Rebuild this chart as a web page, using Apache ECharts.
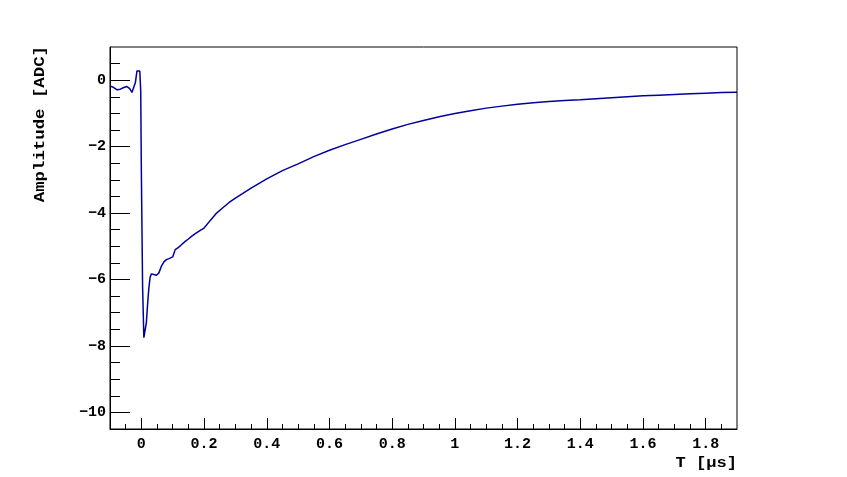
<!DOCTYPE html>
<html><head><meta charset="utf-8">
<script src="https://cdn.jsdelivr.net/npm/echarts@6/dist/echarts.min.js"></script>
<style>html,body{margin:0;padding:0;background:#fff}#c{width:847px;height:477px}</style>
</head><body><div id="c"></div>
<script>
// Waveform readings (time in microseconds, amplitude in ADC counts)
const timeUs = [
  -0.100, -0.088, -0.077, -0.067, -0.056, -0.046, -0.037, -0.030, -0.025, -0.019,
  -0.014, -0.005, -0.002, 0.000, 0.004, 0.008, 0.012, 0.016, 0.020, 0.024,
  0.028, 0.032, 0.040, 0.048, 0.056, 0.064, 0.072, 0.080, 0.088, 0.100,
  0.108, 0.116, 0.126, 0.140, 0.150, 0.160, 0.172, 0.188, 0.200, 0.220,
  0.240, 0.260, 0.280, 0.300, 0.350, 0.400, 0.450, 0.500, 0.550, 0.600,
  0.650, 0.700, 0.750, 0.800, 0.850, 0.900, 0.950, 1.000, 1.050, 1.100,
  1.150, 1.200, 1.250, 1.300, 1.350, 1.400, 1.450, 1.500, 1.550, 1.600,
  1.650, 1.700, 1.750, 1.800, 1.850, 1.900
];
const amplitudeADC = [
  -0.17, -0.22, -0.29, -0.27, -0.22, -0.19, -0.25, -0.37, -0.35, -0.07,
  0.28, 0.28, -0.32, -2.75, -6.23, -7.75, -7.80, -7.30, -6.73, -6.25,
  -5.93, -5.83, -5.85, -5.87, -5.80, -5.60, -5.47, -5.40, -5.37, -5.32,
  -5.10, -5.05, -4.97, -4.85, -4.78, -4.70, -4.62, -4.52, -4.45, -4.22,
  -4.00, -3.84, -3.68, -3.55, -3.25, -2.97, -2.72, -2.52, -2.30, -2.11,
  -1.94, -1.78, -1.62, -1.47, -1.33, -1.21, -1.10, -1.00, -0.92, -0.84,
  -0.78, -0.72, -0.68, -0.64, -0.61, -0.59, -0.56, -0.53, -0.50, -0.47,
  -0.45, -0.43, -0.41, -0.39, -0.37, -0.36
];

// Axis ticks
const xMajorTicks = [0, 0.2, 0.4, 0.6, 0.8, 1, 1.2, 1.4, 1.6, 1.8];
const xMinorTicks = [-0.05, 0.05, 0.1, 0.15, 0.25, 0.3, 0.35, 0.45, 0.5, 0.55, 0.65, 0.7, 0.75,
  0.85, 0.9, 0.95, 1.05, 1.1, 1.15, 1.25, 1.3, 1.35, 1.45, 1.5, 1.55, 1.65, 1.7, 1.75, 1.85];
const yMajorTicks = [-10, -8, -6, -4, -2, 0];
const yMinorTicks = [-9.5, -9, -8.5, -7.5, -7, -6.5, -5.5, -5, -4.5, -3.5, -3, -2.5, -1.5, -1, -0.5, 0.5];
const xTitle = 'T [\u03bcs]';
const yTitle = 'Amplitude [ADC]';

const FONT = "'Liberation Mono', 'DejaVu Sans Mono', monospace";
function fmt(v) {
  const a = Number(Math.abs(v).toFixed(1)).toString();
  return (v < -1e-9 ? '\u2212' : '') + a;
}

const chart = echarts.init(document.getElementById('c'), null, {renderer: 'canvas'});
const labelStyle = {fontFamily: FONT, fontWeight: 'bold', fontSize: 15, color: '#000'};
chart.setOption({
  animation: false,
  backgroundColor: '#fff',
  grid: {left: 110, right: 110, top: 47, bottom: 48, show: true, borderColor: '#000', borderWidth: 1,
         backgroundColor: 'transparent', containLabel: false, outerBoundsMode: 'none'},
  xAxis: [
    {type: 'value', min: -0.1, max: 1.9, position: 'bottom',
     axisLine: {show: true, onZero: false, lineStyle: {color: '#000', width: 1}},
     axisTick: {show: true, inside: true, length: 11, customValues: xMajorTicks, lineStyle: {color: '#000', width: 1}},
     axisLabel: Object.assign({show: true, customValues: xMajorTicks, margin: 8, formatter: fmt}, labelStyle),
     splitLine: {show: false}},
    {type: 'value', min: -0.1, max: 1.9, position: 'bottom',
     axisLine: {show: false, onZero: false},
     axisTick: {show: true, inside: true, length: 5, customValues: xMinorTicks, lineStyle: {color: '#000', width: 1}},
     axisLabel: {show: false}, splitLine: {show: false}}
  ],
  yAxis: [
    {type: 'value', min: -10.5, max: 1, position: 'left',
     axisLine: {show: true, onZero: false, lineStyle: {color: '#000', width: 1}},
     axisTick: {show: true, inside: true, length: 20, customValues: yMajorTicks, lineStyle: {color: '#000', width: 1}},
     axisLabel: Object.assign({show: true, customValues: yMajorTicks, margin: 4, formatter: fmt}, labelStyle),
     splitLine: {show: false}},
    {type: 'value', min: -10.5, max: 1, position: 'left',
     axisLine: {show: false, onZero: false},
     axisTick: {show: true, inside: true, length: 10, customValues: yMinorTicks, lineStyle: {color: '#000', width: 1}},
     axisLabel: {show: false}, splitLine: {show: false}}
  ],
  series: [{
    type: 'line', xAxisIndex: 0, yAxisIndex: 0,
    data: timeUs.map((t, i) => [t, amplitudeADC[i]]),
    symbol: 'none', showSymbol: false, clip: true,
    lineStyle: {color: '#00009b', width: 1.5}
  }],
  graphic: [
    {type: 'text', x: 737, y: 463, scaleX: 1.22, scaleY: 1,
     style: {text: xTitle, x: 0, y: 0, textAlign: 'right', textVerticalAlign: 'middle',
             font: "bold 14px 'Liberation Mono', monospace", fill: '#000'}},
    {type: 'text', x: 40, y: 46, rotation: Math.PI / 2, scaleX: 1.24, scaleY: 1,
     style: {text: yTitle, x: 0, y: 0, textAlign: 'right', textVerticalAlign: 'middle',
             font: "bold 14px 'Liberation Mono', monospace", fill: '#000'}}
  ]
});
</script>
</body></html>
